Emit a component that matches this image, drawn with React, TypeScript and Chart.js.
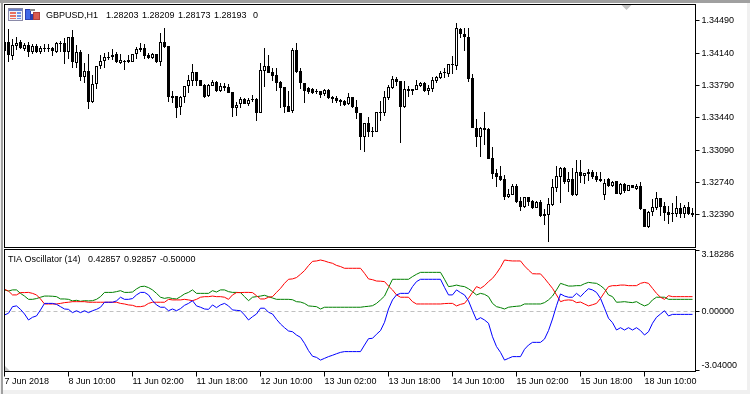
import React, { useEffect, useRef } from "react";
import { Chart, registerables } from "chart.js";

Chart.register(...registerables);

const opens = [
1.34262,1.34262,1.34111,1.34219,1.34262,1.34187,1.34230,1.34154,1.34219,1.34154,
1.34197,1.34187,1.34197,1.34154,1.34241,1.34252,1.34154,1.34316,1.34035,1.34154,
1.33883,1.33948,1.33613,1.33808,1.34003,1.34057,1.34100,1.34100,1.34132,1.34035,
1.34057,1.34067,1.34046,1.34132,1.34197,1.34197,1.34122,1.34089,1.34132,1.34046,
1.34262,1.34219,1.33678,1.33678,1.33559,1.33667,1.33786,1.33840,1.33938,1.33851,
1.33797,1.33678,1.33786,1.33829,1.33732,1.33786,1.33775,1.33721,1.33548,1.33591,
1.33645,1.33591,1.33645,1.33645,1.33494,1.33948,1.34003,1.33938,1.33905,1.33829,
1.33775,1.33570,1.33515,1.34176,1.33948,1.33818,1.33764,1.33753,1.33732,1.33732,
1.33699,1.33743,1.33667,1.33656,1.33635,1.33624,1.33591,1.33667,1.33559,1.33494,
1.33234,1.33385,1.33299,1.33288,1.33505,1.33494,1.33656,1.33764,1.33862,1.33840,
1.33559,1.33753,1.33753,1.33743,1.33786,1.33818,1.33732,1.33753,1.33840,1.33873,
1.33938,1.33916,1.34024,1.34003,1.34403,1.34349,1.34316,1.33873,1.33331,1.33234,
1.33331,1.33321,1.33007,1.32844,1.32812,1.32779,1.32585,1.32606,1.32704,1.32541,
1.32476,1.32585,1.32541,1.32465,1.32530,1.32401,1.32390,1.32498,1.32682,1.32801,
1.32898,1.32747,1.32779,1.32606,1.32855,1.32812,1.32855,1.32855,1.32812,1.32779,
1.32606,1.32779,1.32704,1.32758,1.32617,1.32725,1.32649,1.32714,1.32671,1.32704,
1.32455,1.32260,1.32422,1.32465,1.32574,1.32487,1.32422,1.32411,1.32401,1.32465,
1.32401,1.32476,1.32411,
];

const closes = [
1.34165,1.34122,1.34230,1.34252,1.34197,1.34230,1.34154,1.34219,1.34154,1.34197,
1.34187,1.34197,1.34165,1.34252,1.34252,1.34154,1.34316,1.34046,1.34154,1.33883,
1.33948,1.33613,1.33808,1.34003,1.34057,1.34100,1.34089,1.34122,1.34046,1.34067,
1.34046,1.34046,1.34132,1.34187,1.34176,1.34111,1.34089,1.34132,1.34046,1.34262,
1.34208,1.33667,1.33656,1.33548,1.33667,1.33786,1.33851,1.33938,1.33840,1.33786,
1.33667,1.33797,1.33829,1.33732,1.33786,1.33764,1.33710,1.33548,1.33580,1.33645,
1.33591,1.33635,1.33635,1.33494,1.33959,1.34003,1.33927,1.33894,1.33818,1.33764,
1.33559,1.33505,1.34176,1.33938,1.33818,1.33732,1.33721,1.33710,1.33721,1.33689,
1.33743,1.33656,1.33645,1.33624,1.33613,1.33580,1.33667,1.33559,1.33494,1.33234,
1.33385,1.33288,1.33288,1.33505,1.33494,1.33667,1.33775,1.33862,1.33829,1.33559,
1.33753,1.33732,1.33732,1.33797,1.33818,1.33732,1.33764,1.33851,1.33883,1.33927,
1.33927,1.34024,1.34013,1.34414,1.34349,1.34316,1.33862,1.33331,1.33234,1.33331,
1.33310,1.32996,1.32833,1.32801,1.32769,1.32585,1.32617,1.32704,1.32530,1.32476,
1.32585,1.32530,1.32465,1.32530,1.32379,1.32379,1.32509,1.32693,1.32812,1.32898,
1.32747,1.32779,1.32606,1.32855,1.32812,1.32844,1.32833,1.32801,1.32769,1.32758,
1.32736,1.32704,1.32747,1.32617,1.32725,1.32649,1.32714,1.32682,1.32704,1.32455,
1.32260,1.32422,1.32476,1.32574,1.32476,1.32411,1.32390,1.32401,1.32465,1.32401,
1.32476,1.32401,1.32390,
];

const highs = [
1.34273,1.34403,1.34295,1.34316,1.34284,1.34252,1.34262,1.34241,1.34241,1.34219,
1.34241,1.34241,1.34208,1.34262,1.34273,1.34306,1.34316,1.34392,1.34230,1.34176,
1.34035,1.34132,1.33905,1.34003,1.34122,1.34143,1.34154,1.34187,1.34154,1.34132,
1.34067,1.34122,1.34132,1.34208,1.34252,1.34241,1.34143,1.34143,1.34132,1.34360,
1.34414,1.34219,1.33732,1.33678,1.33678,1.33786,1.33905,1.34024,1.33938,1.33851,
1.33808,1.33808,1.33851,1.33840,1.33818,1.33818,1.33808,1.33721,1.33613,1.33667,
1.33656,1.33656,1.33689,1.33656,1.34035,1.34197,1.34122,1.33981,1.33981,1.33840,
1.33775,1.33732,1.34197,1.34252,1.33981,1.33818,1.33775,1.33764,1.33753,1.33732,
1.33753,1.33753,1.33678,1.33678,1.33645,1.33635,1.33710,1.33667,1.33635,1.33494,
1.33385,1.33450,1.33342,1.33505,1.33624,1.33732,1.33797,1.33894,1.33883,1.33840,
1.33840,1.33786,1.33753,1.33851,1.33829,1.33829,1.33797,1.33883,1.33894,1.33948,
1.33981,1.34024,1.34111,1.34468,1.34414,1.34414,1.34414,1.33916,1.33429,1.33342,
1.33505,1.33331,1.33126,1.32888,1.32920,1.32823,1.32671,1.32725,1.32725,1.32585,
1.32585,1.32585,1.32552,1.32541,1.32552,1.32455,1.32574,1.32779,1.32920,1.32909,
1.32909,1.32855,1.32898,1.32985,1.32985,1.32844,1.32888,1.32877,1.32855,1.32855,
1.32779,1.32790,1.32758,1.32758,1.32736,1.32736,1.32714,1.32714,1.32725,1.32747,
1.32455,1.32433,1.32563,1.32639,1.32574,1.32530,1.32487,1.32520,1.32595,1.32520,
1.32498,1.32530,1.32465,
];

const lows = [
1.34122,1.34046,1.34067,1.34176,1.34187,1.34165,1.34100,1.34132,1.34143,1.34132,
1.34154,1.34154,1.34111,1.34143,1.34154,1.34024,1.34078,1.33981,1.33981,1.33840,
1.33818,1.33537,1.33602,1.33753,1.33970,1.33981,1.34067,1.34067,1.34035,1.34024,
1.33959,1.34035,1.34046,1.34078,1.34154,1.34078,1.34078,1.34078,1.34035,1.34003,
1.34197,1.33613,1.33602,1.33440,1.33472,1.33602,1.33710,1.33786,1.33786,1.33786,
1.33656,1.33667,1.33786,1.33721,1.33721,1.33732,1.33710,1.33450,1.33461,1.33548,
1.33591,1.33570,1.33613,1.33407,1.33494,1.33775,1.33927,1.33840,1.33732,1.33548,
1.33494,1.33505,1.33494,1.33927,1.33753,1.33602,1.33699,1.33699,1.33699,1.33656,
1.33678,1.33645,1.33602,1.33602,1.33570,1.33570,1.33580,1.33548,1.33429,1.33093,
1.33072,1.33234,1.33234,1.33288,1.33407,1.33461,1.33635,1.33753,1.33786,1.33169,
1.33548,1.33667,1.33689,1.33743,1.33775,1.33721,1.33689,1.33721,1.33818,1.33862,
1.33873,1.33883,1.33916,1.33959,1.34306,1.34165,1.33829,1.33331,1.33126,1.33017,
1.33147,1.32996,1.32779,1.32693,1.32758,1.32552,1.32574,1.32606,1.32520,1.32433,
1.32465,1.32487,1.32455,1.32465,1.32368,1.32281,1.32097,1.32487,1.32639,1.32520,
1.32725,1.32639,1.32595,1.32595,1.32736,1.32725,1.32758,1.32779,1.32747,1.32747,
1.32552,1.32693,1.32693,1.32617,1.32606,1.32628,1.32649,1.32682,1.32660,1.32444,
1.32260,1.32249,1.32379,1.32444,1.32379,1.32325,1.32292,1.32314,1.32368,1.32357,
1.32357,1.32390,1.32368,
];

const greenLine = [
1.14,1.08,1.14,1.14,.96,.82,.65,.65,.69,.76,.82,.82,.81,.79,.67,.67,.65,.57,.60,.55,
.58,.57,.58,.65,.79,1.01,1.01,1.01,1.05,1.10,1.01,1.01,1.03,1.19,1.31,1.33,1.26,1.14,.96,.76,
.70,.74,.69,.67,.79,.93,1.01,1.14,.96,.96,.96,.96,1.10,1.03,1.14,1.14,1.05,1.01,1.01,1.00,
.79,.58,
.76,.79,.82,.86,.79,.72,.65,.65,.65,.65,.63,.53,.51,.44,.31,.29,.27,.15,.24,.24,
.24,.24,.24,.24,.24,.24,.24,.24,.27,.29,.32,.44,.62,.82,1.26,1.69,1.69,1.69,1.69,1.69,
1.83,1.95,2.05,2.05,2.05,2.05,2.05,2.05,1.69,1.31,1.34,1.39,1.34,1.31,1.20,1.05,.88,.96,.91,.79,
.44,.27,
.22,.15,.24,.27,.29,.31,.41,.41,.41,.41,.41,.48,.62,.82,1.14,1.48,1.41,1.34,1.34,1.36,
1.36,1.46,1.53,1.50,1.48,1.36,1.19,.88,.79,.50,.51,.53,.50,.48,.53,.41,.31,.39,.62,.76,
.76,.76,.65,.65,.65,.65,.65,.65,.65,
];

const redLine = [
1.17,1.08,.88,.88,1.00,1.00,1.01,.96,.88,.67,.41,.41,.41,.41,.44,.48,.50,.53,.53,.53,
.53,.50,.50,.50,.50,.50,.50,.50,.50,.44,.41,.36,.34,.27,.27,.31,.44,.50,.50,.50,
.50,.65,.62,.62,.62,.65,.62,.58,.65,.76,.79,.79,.82,.79,.79,.76,.65,.88,1.00,1.00,
1.01,1.01,
1.00,.84,.67,.67,.76,.79,1.01,1.22,1.48,1.69,1.71,1.78,1.95,2.14,2.40,2.62,2.64,2.69,2.64,2.57,
2.52,2.41,2.35,2.26,2.26,2.26,2.26,2.26,2.00,1.71,1.67,1.60,1.59,1.57,1.34,1.14,.88,.76,.76,.76,
.53,.41,.41,.41,.41,.41,.41,.41,.43,.44,.44,.31,.39,.44,.70,1.01,1.31,1.22,1.36,1.57,
1.74,2.00,
2.31,2.69,2.66,2.64,2.64,2.64,2.38,2.17,1.98,1.97,1.97,1.74,1.48,1.22,.88,.53,.60,.62,.60,.48,
.51,.41,.31,.37,.44,.70,1.01,1.31,1.36,1.36,1.39,1.39,1.36,1.36,1.36,1.48,1.53,1.48,1.22,.96,
.76,.65,.84,.79,.79,.79,.79,.79,.79,
];

const blueLine = [
-.16,-.07,.27,.31,.13,-.11,-.42,-.28,-.21,.10,.44,.44,.44,.39,.27,.15,.13,-.04,.06,-.04,
.06,-.04,.06,.13,.24,.50,.50,.50,.57,.76,.65,.65,.69,.88,1.01,1.01,.88,.58,.36,.24,
.24,.06,.15,.06,.17,.34,.44,.58,.31,.24,.15,.13,.36,.22,.36,.44,.31,.10,.08,.06,
-.16,-.42,
-.25,-.11,.19,.19,-.02,-.11,-.39,-.63,-.82,-.99,-1.03,-1.20,-1.32,-1.63,-2.01,-2.30,-2.36,-2.50,-2.41,-2.32,
-2.25,-2.17,-2.10,-2.06,-2.06,-2.06,-2.06,-2.06,-1.72,-1.39,-1.37,-1.16,-.97,-.54,.15,.62,.88,.96,.96,.96,
1.31,1.57,1.69,1.69,1.69,1.69,1.69,1.69,1.27,.88,.88,1.14,1.00,.88,.57,.06,-.42,-.30,-.42,-.59,
-1.29,-1.80,
-2.10,-2.50,-2.41,-2.32,-2.32,-2.32,-1.94,-1.72,-1.58,-1.58,-1.58,-1.41,-.97,-.37,.32,.93,.82,.76,.76,.96,
.79,1.01,1.20,1.14,1.01,.70,.19,-.33,-.56,-.94,-.82,-.94,-.82,-.94,-.82,-.97,-1.20,-1.03,-.59,-.28,
-.11,.06,-.21,-.13,-.13,-.13,-.13,-.13,-.13,
];

const priceTicks = [1.3449, 1.3414, 1.3379, 1.3344, 1.3309, 1.3274, 1.3239];
const oscTicks = [3.18286, 0, -3.04];
const timeTicks = [0, 16, 32, 48, 64, 80, 96, 112, 128, 144, 160];
const timeLabels = [
  "7 Jun 2018", "8 Jun 10:00", "11 Jun 02:00", "11 Jun 18:00", "12 Jun 10:00", "13 Jun 02:00",
  "13 Jun 18:00", "14 Jun 10:00", "15 Jun 02:00", "15 Jun 18:00", "18 Jun 10:00",
];
const headerParts: [string, number][] = [
  ["GBPUSD,H1", 46], ["1.28203", 106], ["1.28209", 142], ["1.28173", 178], ["1.28193", 214], ["0", 253],
];
const oscParts: [string, number][] = [
  ["TIA Oscillator (14)", 8], ["0.42857", 88], ["0.92857", 124], ["-0.50000", 160],
];

const FONT = '9px "Liberation Sans"';
const X_MIN = 0;
const X_MAX = 172.75;

function frame(ctx: CanvasRenderingContext2D, a: any, extra: number) {
  ctx.save();
  ctx.strokeStyle = "#000";
  ctx.lineWidth = 1;
  ctx.strokeRect(a.left, a.top - extra, a.right - a.left, a.bottom - a.top + 2 * extra);
  ctx.restore();
}

function texts(ctx: CanvasRenderingContext2D, parts: [string, number][], y: number) {
  ctx.save();
  ctx.font = FONT;
  ctx.fillStyle = "#000";
  ctx.textBaseline = "alphabetic";
  parts.forEach(([t, x]) => ctx.fillText(t, x, y));
  ctx.restore();
}

function noOverhang(s: any) {
  s.paddingTop = 0;
  s.paddingBottom = 0;
  s.paddingLeft = 0;
  s.paddingRight = 0;
}

const pricePlugin = {
  id: "pricePane",
  afterDraw(chart: any) {
    const ctx = chart.ctx;
    frame(ctx, chart.chartArea, 0);
    // panel icons
    ctx.save();
    ctx.fillStyle = "#8a8aa8";
    ctx.fillRect(8, 8, 15, 13);
    ctx.fillStyle = "#eef2fa";
    ctx.fillRect(9, 9, 13, 11);
    ctx.fillStyle = "#6a80c8";
    ctx.fillRect(9, 9, 13, 2);
    ctx.fillStyle = "#e87060";
    ctx.fillRect(10, 12, 6, 2);
    ctx.fillRect(10, 15, 6, 2);
    ctx.fillRect(10, 18, 6, 1);
    ctx.fillStyle = "#7090e0";
    ctx.fillRect(17, 12, 4, 2);
    ctx.fillRect(17, 15, 4, 2);
    ctx.fillRect(17, 18, 4, 1);
    ctx.fillStyle = "#2a3fb0";
    ctx.fillRect(25, 9, 6, 11);
    ctx.fillRect(31, 14, 2, 6);
    ctx.fillStyle = "#3f68e8";
    ctx.fillRect(26, 10, 4, 9);
    ctx.fillStyle = "#8a8a8a";
    ctx.fillRect(30, 9, 5, 2);
    ctx.fillStyle = "#b0403a";
    ctx.fillRect(33, 12, 7, 8);
    ctx.fillStyle = "#d85a50";
    ctx.fillRect(34, 13, 5, 6);
    // scroll marker
    ctx.fillStyle = "#c4c4c4";
    ctx.beginPath();
    ctx.moveTo(621.5, 5);
    ctx.lineTo(631.5, 5);
    ctx.lineTo(626.5, 10);
    ctx.closePath();
    ctx.fill();
    ctx.restore();
    texts(ctx, headerParts, 18);
  },
};

const oscPlugin = {
  id: "oscPane",
  beforeDraw(chart: any) {
    chart.scales.y.getLabelItems().forEach((item: any) => {
      if (item.__moved) return;
      item.__moved = true;
      const t = item.options.translation;
      if (item.label === "3.18286") item.options.translation = [t[0], t[1] + 4];
      if (item.label === "-3.04000") item.options.translation = [t[0], t[1] - 5];
    });
  },
  afterDraw(chart: any) {
    const ctx = chart.ctx;
    frame(ctx, chart.chartArea, 1);
    ctx.save();
    ctx.fillStyle = "#c4c4c4";
    const b = chart.chartArea.bottom + 0.5;
    ctx.beginPath();
    ctx.moveTo(5, b - 5);
    ctx.lineTo(10, b);
    ctx.lineTo(5, b);
    ctx.closePath();
    ctx.fill();
    ctx.restore();
    texts(ctx, oscParts, 14);
  },
};

export default function App() {
  const priceRef = useRef<HTMLCanvasElement>(null);
  const oscRef = useRef<HTMLCanvasElement>(null);

  useEffect(() => {
    const index = opens.map((_, i) => i);
    const tickStyle = { color: "#000", font: { family: "Liberation Sans", size: 9 } };

    const price = new Chart(priceRef.current!, {
      type: "bar",
      data: {
        datasets: [
          {
            label: "Body",
            data: index.map((i) => ({ x: i, y: [opens[i], closes[i]] })),
            barThickness: 3,
            grouped: false,
            borderWidth: 1,
            borderSkipped: false,
            borderColor: "#000",
            inflateAmount: 0,
            backgroundColor: index.map((i) => (closes[i] >= opens[i] ? "#fff" : "#000")),
          },
          {
            label: "Range",
            data: index.map((i) => ({ x: i, y: [lows[i], highs[i]] })),
            barThickness: 1,
            grouped: false,
            borderWidth: 0,
            inflateAmount: 0,
            backgroundColor: "#000",
          },
        ] as any,
      },
      options: {
        animation: false,
        responsive: false,
        layout: { padding: { left: 4.5, top: 4.5, bottom: 1.5, right: 0 } },
        plugins: { legend: { display: false }, tooltip: { enabled: false } },
        scales: {
          x: { type: "linear", display: false, offset: false, min: X_MIN, max: X_MAX },
          y: {
            type: "linear",
            position: "right",
            min: 1.32038,
            max: 1.34668,
            afterBuildTicks: (s: any) => {
              s.ticks = priceTicks.map((value) => ({ value }));
            },
            afterFit: (s: any) => {
              s.width = 54.5;
              noOverhang(s);
            },
            grid: { drawOnChartArea: false, tickLength: 4, tickColor: "#000" },
            border: { color: "#000" },
            ticks: { ...tickStyle, padding: 2, callback: (v: any) => Number(v).toFixed(5) },
          },
        },
      } as any,
      plugins: [pricePlugin],
    });

    const osc = new Chart(oscRef.current!, {
      type: "line",
      data: {
        datasets: [
          { label: "Blue", data: index.map((i) => ({ x: i, y: blueLine[i] })), borderColor: "#0000ff" },
          { label: "Red", data: index.map((i) => ({ x: i, y: redLine[i] })), borderColor: "#ff0000" },
          { label: "Green", data: index.map((i) => ({ x: i, y: greenLine[i] })), borderColor: "#008000" },
        ],
      },
      options: {
        animation: false,
        responsive: false,
        elements: { point: { radius: 0 }, line: { borderWidth: 1, tension: 0 } },
        layout: { padding: { left: 4.5, top: 2.5, bottom: 0, right: 0 } },
        plugins: { legend: { display: false }, tooltip: { enabled: false } },
        scales: {
          x: {
            type: "linear",
            min: X_MIN,
            max: X_MAX,
            offset: false,
            afterBuildTicks: (s: any) => {
              s.ticks = timeTicks.map((value) => ({ value }));
            },
            afterFit: (s: any) => {
              s.height = 23.5;
              noOverhang(s);
            },
            grid: { drawOnChartArea: false, tickLength: 6, tickColor: "#000" },
            border: { display: false },
            ticks: {
              ...tickStyle,
              padding: 0,
              align: "start",
              autoSkip: false,
              maxRotation: 0,
              callback: (v: any) => timeLabels[timeTicks.indexOf(Number(v))],
            },
          },
          y: {
            type: "linear",
            position: "right",
            min: -3.04,
            max: 3.18286,
            afterBuildTicks: (s: any) => {
              s.ticks = oscTicks.map((value) => ({ value }));
            },
            afterFit: (s: any) => {
              s.width = 54.5;
              noOverhang(s);
            },
            grid: {
              tickLength: 4,
              tickColor: "#000",
              color: (c: any) => (c.tick && c.tick.value === 0 ? "#c0c0c0" : "rgba(0,0,0,0)"),
            },
            border: { color: "#000", dash: [4, 3] },
            ticks: { ...tickStyle, padding: 2, callback: (v: any) => Number(v).toFixed(5) },
          },
        },
      } as any,
      plugins: [oscPlugin],
    });

    return () => {
      price.destroy();
      osc.destroy();
    };
  }, []);

  return (
    <div style={{ position: "fixed", left: 0, top: 0, width: 750, height: 394, background: "#f0f0f0", overflow: "hidden" }}>
      <div style={{ position: "absolute", left: 1, top: 0, width: 2, height: 394, background: "#a0a0a0" }} />
      <div style={{ position: "absolute", left: 0, top: 0, width: 750, height: 3, background: "#a0a0a0" }} />
      <div style={{ position: "absolute", left: 3, top: 3, width: 744, height: 387, background: "#fff" }} />
      <canvas ref={priceRef} width={750} height={249} style={{ position: "absolute", left: 0, top: 0 }} />
      <canvas ref={oscRef} width={750} height={146} style={{ position: "absolute", left: 0, top: 248 }} />
    </div>
  );
}
